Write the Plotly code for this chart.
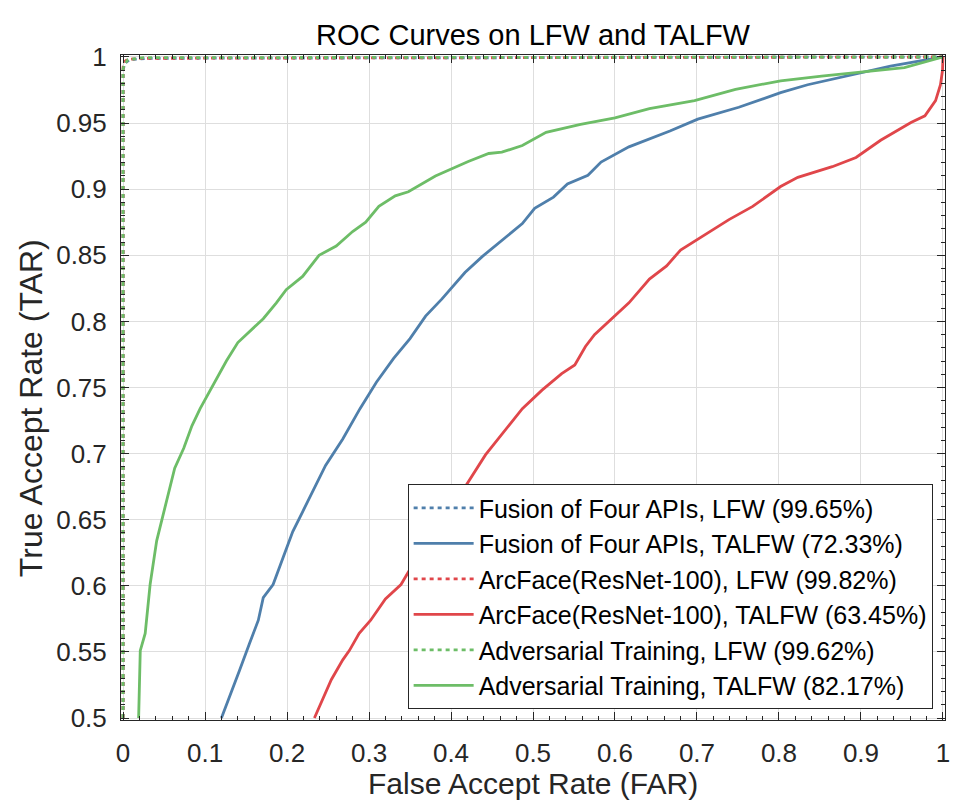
import plotly.graph_objects as go

# ROC data (FAR, TAR)
fusion_lfw_far = [0.0, 0.0, 0.002, 0.008, 0.03, 1.0]
fusion_lfw_tar = [0.5, 0.99, 0.995, 0.998, 0.999, 1.0]

fusion_talfw_far = [0.120, 0.130, 0.142, 0.154, 0.165, 0.171, 0.183, 0.195, 0.207, 0.219,
                    0.231, 0.247, 0.268, 0.289, 0.309, 0.330, 0.350, 0.369, 0.389, 0.417,
                    0.438, 0.466, 0.487, 0.502, 0.525, 0.542, 0.567, 0.583, 0.617, 0.667,
                    0.701, 0.751, 0.802, 0.835, 0.894, 0.936, 1.0]
fusion_talfw_tar = [0.5, 0.516, 0.536, 0.556, 0.574, 0.591, 0.601, 0.621, 0.641, 0.656,
                    0.671, 0.691, 0.711, 0.734, 0.754, 0.772, 0.787, 0.804, 0.817, 0.837,
                    0.849, 0.863, 0.874, 0.8855, 0.894, 0.904, 0.9105, 0.9205, 0.932, 0.944,
                    0.953, 0.962, 0.973, 0.979, 0.987, 0.993, 1.0]

arcface_lfw_far = [0.0, 0.0, 0.001, 0.005, 0.02, 1.0]
arcface_lfw_tar = [0.5, 0.992, 0.996, 0.998, 0.999, 1.0]

arcface_talfw_far = [0.2334, 0.243, 0.254, 0.268, 0.276, 0.288, 0.302, 0.320, 0.339, 0.361,
                     0.381, 0.401, 0.422, 0.442, 0.471, 0.487, 0.511, 0.535, 0.551, 0.564,
                     0.575, 0.584, 0.600, 0.617, 0.642, 0.663, 0.680, 0.701, 0.739, 0.768,
                     0.802, 0.823, 0.865, 0.894, 0.924, 0.961, 0.978, 0.991, 0.997, 0.9995, 1.0]
arcface_talfw_tar = [0.5, 0.514, 0.529, 0.544, 0.551, 0.564, 0.574, 0.590, 0.601, 0.624,
                     0.641, 0.659, 0.679, 0.699, 0.7216, 0.734, 0.748, 0.7605, 0.767, 0.781,
                     0.790, 0.795, 0.804, 0.814, 0.832, 0.842, 0.854, 0.862, 0.877, 0.887,
                     0.902, 0.909, 0.917, 0.924, 0.937, 0.9505, 0.9555, 0.967, 0.979, 0.99, 1.0]

adv_lfw_far = [0.0, 0.0, 0.002, 0.006, 0.025, 1.0]
adv_lfw_tar = [0.5, 0.991, 0.995, 0.998, 0.9995, 1.0]

adv_talfw_far = [0.019, 0.021, 0.027, 0.033, 0.041, 0.049, 0.057, 0.063, 0.074, 0.084,
                 0.094, 0.110, 0.126, 0.140, 0.154, 0.171, 0.187, 0.199, 0.219, 0.239,
                 0.260, 0.280, 0.296, 0.312, 0.332, 0.348, 0.381, 0.421, 0.446, 0.462,
                 0.487, 0.516, 0.558, 0.600, 0.642, 0.697, 0.747, 0.802, 0.852, 0.903,
                 0.953, 1.0]
adv_talfw_tar = [0.5, 0.551, 0.564, 0.601, 0.634, 0.654, 0.674, 0.689, 0.704, 0.721,
                 0.734, 0.752, 0.770, 0.784, 0.792, 0.802, 0.814, 0.824, 0.834, 0.850,
                 0.857, 0.868, 0.875, 0.887, 0.895, 0.898, 0.910, 0.921, 0.927, 0.928,
                 0.933, 0.943, 0.949, 0.954, 0.961, 0.967, 0.9755, 0.982, 0.9855, 0.989,
                 0.992, 1.0]

x_ticks = [0, 0.1, 0.2, 0.3, 0.4, 0.5, 0.6, 0.7, 0.8, 0.9, 1]
x_labels = ['0', '0.1', '0.2', '0.3', '0.4', '0.5', '0.6', '0.7', '0.8', '0.9', '1']
y_ticks = [0.5, 0.55, 0.6, 0.65, 0.7, 0.75, 0.8, 0.85, 0.9, 0.95, 1]
y_labels = ['0.5', '0.55', '0.6', '0.65', '0.7', '0.75', '0.8', '0.85', '0.9', '0.95', '1']

blue = '#4f7fab'
red = '#e0464a'
green = '#6dbd67'
font = 'Liberation Sans, Arial, sans-serif'
ink = '#262626'

fig = go.Figure()
series = [
    ('Fusion of Four APIs, LFW (99.65%)', fusion_lfw_far, fusion_lfw_tar, blue, '4px,4px'),
    ('Fusion of Four APIs, TALFW (72.33%)', fusion_talfw_far, fusion_talfw_tar, blue, 'solid'),
    ('ArcFace(ResNet-100), LFW (99.82%)', arcface_lfw_far, arcface_lfw_tar, red, '4px,4px'),
    ('ArcFace(ResNet-100), TALFW (63.45%)', arcface_talfw_far, arcface_talfw_tar, red, 'solid'),
    ('Adversarial Training, LFW (99.62%)', adv_lfw_far, adv_lfw_tar, green, '4px,4px'),
    ('Adversarial Training, TALFW (82.17%)', adv_talfw_far, adv_talfw_tar, green, 'solid'),
]
for name, xs, ys, col, dash in series:
    fig.add_trace(go.Scatter(x=xs, y=ys, mode='lines', name=name,
                             line=dict(color=col, width=2.8, dash=dash)))

axis_common = dict(showline=True, linecolor=ink, linewidth=1, mirror='ticks',
                   ticks='inside', ticklen=8, tickcolor=ink, tickwidth=1,
                   showgrid=True, gridcolor='#dedede', gridwidth=1, zeroline=False,
                   tickfont=dict(family=font, size=26, color=ink))

fig.update_xaxes(range=[-0.0025, 1.0025], tickvals=x_ticks, ticktext=x_labels,
                 ticklabelstandoff=10,
                 minor=dict(dtick=0.02, tick0=0, ticks='inside', ticklen=4, tickcolor=ink, showgrid=False),
                 **axis_common)
fig.update_yaxes(range=[0.4985, 1.0015], tickvals=y_ticks, ticktext=y_labels,
                 ticklabelstandoff=8,
                 minor=dict(dtick=0.01, tick0=0.5, ticks='inside', ticklen=4, tickcolor=ink, showgrid=False),
                 **axis_common)

# axis titles as annotations so their position matches the original
fig.add_annotation(text='False Accept Rate (FAR)', xref='paper', yref='paper',
                   x=0.5, y=-0.0962, xanchor='center', yanchor='middle', showarrow=False,
                   font=dict(family=font, size=30, color=ink))
fig.add_annotation(text='True Accept Rate (TAR)', xref='paper', yref='paper',
                   x=-0.1092, y=0.469, xanchor='center', yanchor='middle', showarrow=False,
                   textangle=-90, font=dict(family=font, size=32, color=ink))

fig.update_layout(
    width=958, height=801,
    margin=dict(l=113, r=21, t=47, b=89),
    paper_bgcolor='white', plot_bgcolor='white',
    title=dict(text='ROC Curves on LFW and TALFW', x=0.548, xanchor='center',
               y=0.967, yanchor='middle', font=dict(family=font, size=29, color='black')),
    legend=dict(x=0.985, y=0.0165, xanchor='right', yanchor='bottom',
                bgcolor='white', bordercolor=ink, borderwidth=1,
                font=dict(family=font, size=25, color='black'),
                tracegroupgap=0, itemwidth=60),
    showlegend=True,
)

fig.write_html("out.html")
